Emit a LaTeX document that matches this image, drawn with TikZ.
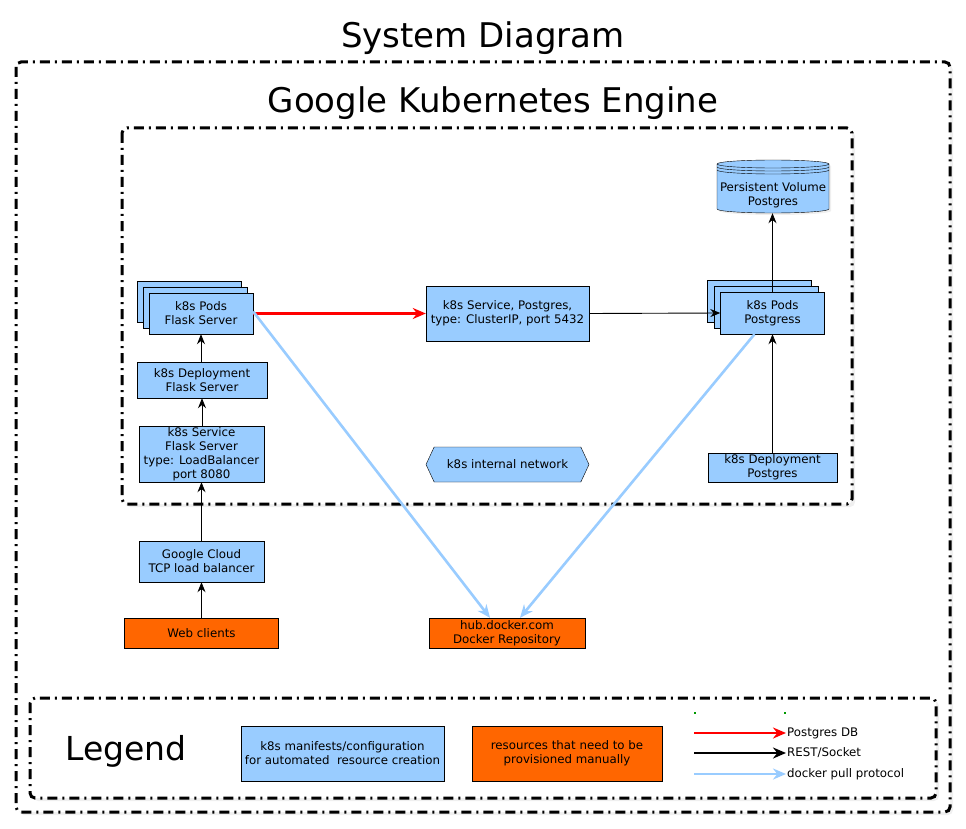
\documentclass[tikz,border=0pt]{standalone}
\usepackage{fontspec}
\setmainfont{DejaVu Sans}
\usepackage{xcolor}
\usetikzlibrary{shadows,arrows.meta,shapes.symbols}

\definecolor{kblue}{HTML}{99CCFF}
\definecolor{korange}{HTML}{FF6600}

\tikzset{
  zone/.style={line width=3pt, rounded corners=5pt, fill=white,
    dash pattern=on 10pt off 5pt on 2pt off 5pt,
    drop shadow={opacity=0.12, shadow xshift=3pt, shadow yshift=-3pt}},
  kbox/.style={draw, fill=kblue, inner sep=0pt, align=center,
    font=\fontsize{11.8}{14}\selectfont},
  manual/.style={kbox, fill=korange},
  rest/.style={-{Stealth[length=10pt,width=8pt]}, line width=0.9pt},
  pgline/.style={-{Stealth[length=13pt,width=11pt]}, line width=2.6pt, red},
  pull/.style={-{Stealth[length=13pt,width=11pt]}, line width=2.6pt, kblue},
  bigtext/.style={font=\fontsize{34}{40}\selectfont},
  lbl/.style={right, inner sep=1pt, font=\fontsize{11.8}{14}\selectfont}
}

\begin{document}
\begin{tikzpicture}[x=1pt, y=-1pt]
  \useasboundingbox (0,0) rectangle (966,829);

  % Containers
  \draw[zone] (16,62) rectangle (950,812);
  \node[bigtext] (title) at (483,38) {System Diagram};
  \draw[zone] (122,128) rectangle (852,504);
  \node[bigtext] (gke) at (493,103) {Google Kubernetes Engine};
  \draw[zone] (30,698) rectangle (936,798);

  % Persistent volume (datastore)
  \filldraw[fill=kblue, drop shadow={opacity=0.12, shadow xshift=2pt, shadow yshift=-2pt}]
    (717,164) -- (717,209) arc[start angle=180, end angle=0, x radius=56, y radius=4]
    -- (829,164) arc[start angle=0, end angle=-180, x radius=56, y radius=4] -- cycle;
  \draw (717,164) arc[start angle=180, end angle=0, x radius=56, y radius=4];
  \draw (717,167) arc[start angle=180, end angle=0, x radius=56, y radius=4];
  \draw (717,170) arc[start angle=180, end angle=0, x radius=56, y radius=4];
  \node[kbox, draw=none, fill=none, minimum width=112, minimum height=36] (pv) at (773,195)
    {Persistent Volume\\Postgres};

  % Flask side
  \node[kbox, minimum width=104, minimum height=41] (fpods3) at (189,301.5) {};
  \node[kbox, minimum width=104, minimum height=41] (fpods2) at (195,307.5) {};
  \node[kbox, minimum width=104, minimum height=41] (fpods) at (201,313.5) {k8s Pods\\Flask Server};
  \node[kbox, minimum width=130, minimum height=36] (fdep) at (202,380) {k8s Deployment\\Flask Server};
  \node[kbox, minimum width=125, minimum height=56] (fsvc) at (201.5,454)
    {k8s Service\\Flask Server\\type: LoadBalancer\\port 8080};
  \node[kbox, minimum width=125, minimum height=41] (lb) at (201.5,561.5) {Google Cloud\\TCP load balancer};
  \node[manual, minimum width=154, minimum height=30] (web) at (201.5,633) {Web clients};

  % Postgres side
  \node[kbox, minimum width=163, minimum height=55] (psvc) at (507.5,313.5)
    {k8s Service, Postgres,\\type: ClusterIP, port 5432};
  \node[kbox, minimum width=104, minimum height=42] (ppods3) at (759,301) {};
  \node[kbox, minimum width=104, minimum height=42] (ppods2) at (766,307) {};
  \node[kbox, minimum width=104, minimum height=42] (ppods) at (772.5,313) {k8s Pods\\Postgress};
  \node[kbox, minimum width=129, minimum height=29] (pdep) at (772.5,467.5) {k8s Deployment\\Postgres};
  \node[kbox, signal, signal from=nowhere, signal to=east and west, signal pointer angle=130,
    minimum width=163, minimum height=35] (net) at (507.5,464.5) {k8s internal network};
  \node[manual, minimum width=156, minimum height=30] (hub) at (507,633) {hub.docker.com\\Docker Repository};

  % Connections
  \draw[rest] (web) -- (lb);
  \draw[rest] (lb) -- (fsvc);
  \draw[rest] (fsvc.north -| fdep.south) -- (fdep.south);
  \draw[rest] (fdep.north -| fpods.south) -- (fpods.south);
  \draw[pgline] (fpods.east) -- (psvc.west);
  \draw[rest] (psvc.east) -- (ppods.west);
  \draw[rest] (ppods.north) -- (pv.south -| ppods.north);
  \draw[rest] (pdep.north) -- (ppods.south);
  \draw[pull] ([yshift=2]fpods.east) -- ([xshift=-17]hub.north);
  \draw[pull] ([xshift=-18]ppods.south) -- ([xshift=13]hub.north);

  % Legend
  \node[font=\fontsize{33}{40}\selectfont] (legend) at (126,751) {Legend};
  \node[kbox, minimum width=203, minimum height=55] (lgauto) at (342.5,753.5)
    {k8s manifests/configuration\\for automated\ \ resource creation};
  \node[manual, minimum width=190, minimum height=55] (lgman) at (567,753.5)
    {resources that need to be\\provisioned manually};
  \fill[green!60!black] (694,712) rectangle ++(1.5,1.5);
  \fill[green!60!black] (784,712) rectangle ++(1.5,1.5);
  \coordinate (pga) at (694,733);
  \coordinate (pgb) at (786,733);
  \coordinate (rsa) at (694,753);
  \coordinate (rsb) at (786,753);
  \coordinate (dpa) at (694,774);
  \coordinate (dpb) at (786,774);
  \draw[pgline] (pga) -- (pgb);
  \draw[pgline, black] (rsa) -- (rsb);
  \draw[pull] (dpa) -- (dpb);
  \node[lbl] (pglbl) at (pgb) {Postgres DB};
  \node[lbl] (rslbl) at (rsb) {REST/Socket};
  \node[lbl] (dplbl) at (dpb) {docker pull protocol};
\end{tikzpicture}
\end{document}
